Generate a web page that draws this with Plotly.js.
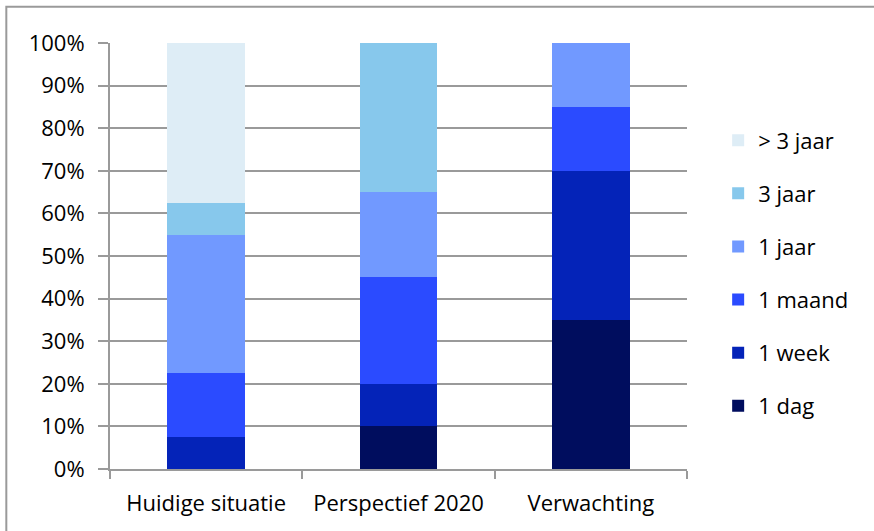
<!DOCTYPE html>
<html>
<head>
<meta charset="utf-8">
<script src="https://cdn.plot.ly/plotly-3.0.1.min.js"></script>
<style>html,body{margin:0;padding:0;background:#fff;overflow:hidden}</style>
</head>
<body>
<div id="chart" style="width:874px;height:531px"></div>
<script>
const categories = ["Huidige situatie", "Perspectief 2020", "Verwachting"];
const seriesNames = ["1 dag", "1 week", "1 maand", "1 jaar", "3 jaar", "> 3 jaar"];
const dag    = [0, 10, 35];
const week   = [7.5, 10, 35];
const maand  = [15, 25, 15];
const jaar1  = [32.5, 20, 15];
const jaar3  = [7.5, 35, 0];
const jaar3p = [37.5, 0, 0];
const seriesValues = [dag, week, maand, jaar1, jaar3, jaar3p];
const colors = ["#000D5E", "#0423B8", "#2B4BFF", "#7199FF", "#87C8EC", "#DEEDF6"];
const yTicks = [0,10,20,30,40,50,60,70,80,90,100];
const yTickLabels = yTicks.map(v => v + "%");

const font = "'Open Sans', Lato, sans-serif";
const traces = seriesNames.map((n, i) => ({
  type: "bar", name: n, x: categories, y: seriesValues[i],
  marker: {color: colors[i], line: {width: 0}},
  legendgroup: "g" + i, legendrank: 1000 - i, hoverinfo: "name+y"
}));

const layout = {
  width: 874, height: 531,
  margin: {l: 110, r: 187, t: 43, b: 62},
  paper_bgcolor: "#fff", plot_bgcolor: "#fff",
  barmode: "stack", bargap: 0.595,
  font: {family: font, size: 22, color: "#000"},
  showlegend: true,
  legend: {x: 1.054, xanchor: "left", y: 0.459, yanchor: "middle",
    traceorder: "grouped", tracegroupgap: 21.5,
    font: {family: font, size: 22, color: "#000"}, bgcolor: "rgba(0,0,0,0)"},
  xaxis: {type: "category", showline: true, linecolor: "#9a9a9a", linewidth: 2,
    ticks: "outside", tickson: "boundaries", ticklen: 8, tickcolor: "#9a9a9a", tickwidth: 2,
    ticklabelstandoff: 14,
    showgrid: false, tickfont: {family: font, size: 22}, fixedrange: true},
  yaxis: {range: [0, 100], tickvals: yTicks, ticktext: yTickLabels,
    showline: true, linecolor: "#9a9a9a", linewidth: 2,
    ticks: "outside", ticklen: 10, tickcolor: "#9a9a9a", tickwidth: 2,
    ticklabelstandoff: 9,
    showgrid: true, gridcolor: "#9a9a9a", gridwidth: 2, zeroline: false,
    tickfont: {family: font, size: 22}, fixedrange: true},
  shapes: [{type: "rect", xref: "paper", yref: "paper",
    x0: -0.1797, x1: 1.5, y0: -0.3, y1: 1.085,
    line: {color: "#9a9a9a", width: 2}, fillcolor: "rgba(0,0,0,0)", layer: "below"}]
};
Plotly.newPlot("chart", traces, layout, {staticPlot: true});
</script>
</body>
</html>
